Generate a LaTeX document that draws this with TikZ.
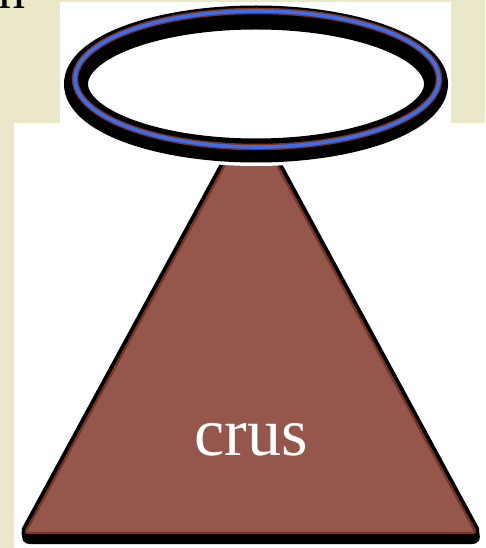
\documentclass[tikz,border=0pt]{standalone}
\usepackage{fontspec}
\setmainfont{Liberation Serif}
\definecolor{pagebeige}{HTML}{EBE8C9}
\definecolor{conebrown}{HTML}{95574C}
\definecolor{coneedge}{HTML}{7A3425}
\definecolor{haloblue}{HTML}{3C6CF0}
\begin{document}
\begin{tikzpicture}[
  x=1pt, y=-1pt,
  panel/.style={fill=white, draw=none},
  coneshadow/.style={fill=black, draw=black, line width=8pt, rounded corners=6pt},
  coneoutline/.style={draw=black, line width=10pt, rounded corners=4pt},
  conebody/.style={fill=conebrown, draw=coneedge, line width=2.4pt, rounded corners=3pt},
  haloglow/.style={fill=white, draw=white, line width=31pt},
  haloband/.style={draw=black, line width=24pt},
  halorim/.style={draw=coneedge, line width=6.5pt},
  haloline/.style={draw=haloblue, line width=3.6pt},
  conetext/.style={font=\fontsize{68}{80}\selectfont, text=white, anchor=base, inner sep=0pt}
]
\useasboundingbox (0,0) rectangle (485,548);
\clip (0,0) rectangle (485,548);

% background panels
\fill[pagebeige] (0,0) rectangle (485,548);
\fill[panel] (60,2) rectangle (451,123);
\fill[panel] (14,123) rectangle (485,548);
\node (corner) [anchor=base west, inner sep=0pt, font=\fontsize{54}{60}\selectfont] at (-2,9) {n};

% cone
\coordinate (apex) at (251,117);
\coordinate (baseL) at (25,533);
\coordinate (baseR) at (476,533);
\fill[coneshadow] ([shift={(2,7)}]apex) -- ([shift={(2,7)}]baseR) -- ([shift={(-1,7)}]baseL) -- cycle;
\draw[coneoutline] (apex) -- (baseR) -- (baseL) -- cycle;
\draw[conebody] (apex) -- (baseR) -- (baseL) -- cycle;
\node (label) [conetext] at (251,455) {crus};

% halo
\coordinate (halo) at (256,84);
\coordinate (ring) at (257,79);
\draw[haloglow] (halo) ellipse [x radius=180, y radius=66.5];
\draw[haloband] (halo) ellipse [x radius=180, y radius=66.5];
\draw[halorim] (ring) ellipse [x radius=182, y radius=68];
\draw[haloline] (ring) ellipse [x radius=182, y radius=68];
\end{tikzpicture}
\end{document}
